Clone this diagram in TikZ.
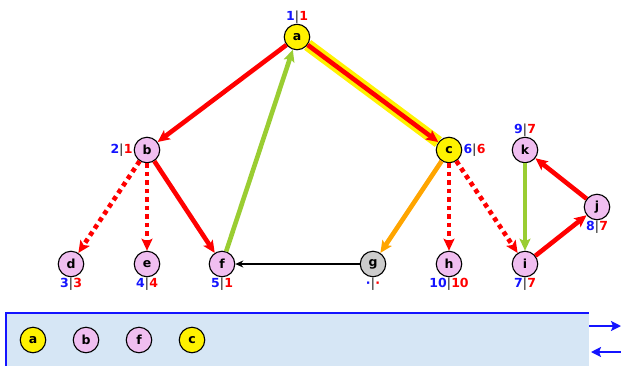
\documentclass[tikz,border=0pt]{standalone}
\usepackage{fontspec}
\setmainfont{DejaVu Sans}
\usetikzlibrary{arrows.meta,positioning}
\definecolor{nodepink}{RGB}{240,190,240}
\definecolor{nodegray}{RGB}{204,204,204}
\definecolor{ygreen}{RGB}{154,205,50}
\definecolor{orng}{RGB}{255,165,0}
\definecolor{boxfill}{RGB}{214,230,245}
\definecolor{lblue}{RGB}{20,20,255}
\definecolor{lred}{RGB}{255,0,0}
\tikzset{
  vx/.style={circle,draw=black,line width=1.1pt,minimum size=25.5pt,inner sep=0pt,font=\fontsize{12.5}{12.5}\selectfont\bfseries},
  pk/.style={vx,fill=nodepink},
  yl/.style={vx,fill=yellow},
  gy/.style={vx,fill=nodegray},
  lbl/.style={font=\fontsize{12.5}{12.5}\selectfont\bfseries,inner sep=1pt},
  tip/.style={-{Stealth[length=12pt,width=11pt,inset=2.5pt]}},
  redE/.style={tip,draw=red,line width=4.6pt},
  redD/.style={redE,dash pattern=on 4.5pt off 4pt},
  grnE/.style={tip,draw=ygreen,line width=4.6pt},
  orgE/.style={tip,draw=orng,line width=4.6pt},
  stk/.style={lblue,line width=2.2pt,-{Stealth[length=10pt,width=10pt,inset=2pt]}},
}
\newcommand{\lab}[2]{\textcolor{lblue}{#1}\textcolor{black!70}{|}\textcolor{lred}{#2}}
\begin{document}
\begin{tikzpicture}[x=1pt,y=-1pt]
\useasboundingbox (0,0) rectangle (621,365);
% box
\fill[boxfill] (6,313) rectangle (589,366);
\draw[lblue,line width=2pt] (6,366) -- (6,313) -- (589,313);
\coordinate (r1a) at (589,326); \coordinate (r1b) at (621,326);
\coordinate (r2a) at (621,352); \coordinate (r2b) at (591,352);
\draw[stk] (r1a) -- (r1b);
\draw[stk] (r2a) -- (r2b);
% nodes
\node[yl] (a) at (297,37) {a};
\node[pk] (b) at (147,150) {b};
\node[yl] (c) at (449,150) {c};
\node[pk] (k) at (525,150) {k};
\node[pk] (j) at (597,207) {j};
\node[pk] (d) at (71,264) {d};
\node[pk] (e) at (147,264) {e};
\node[pk] (f) at (222,264) {f};
\node[gy] (g) at (373,264) {g};
\node[pk] (h) at (449,264) {h};
\node[pk] (i) at (525,264) {i};
% stack
\node[yl] (sa) at (33,340) {a};
\node[pk] (sb) at (86,340) {b};
\node[pk] (sf) at (139,340) {f};
\node[yl] (sc) at (192,340) {c};
% labels
\node[lbl,above=-1pt of a] {\lab{1}{1}};
\node[lbl,left=0pt of b] {\lab{2}{1}};
\node[lbl,right=0pt of c] {\lab{6}{6}};
\node[lbl,above=-1pt of k] {\lab{9}{7}};
\node[lbl,below=-1pt of j] {\lab{8}{7}};
\node[lbl,below=-1pt of d] {\lab{3}{3}};
\node[lbl,below=-1pt of e] {\lab{4}{4}};
\node[lbl,below=-1pt of f] {\lab{5}{1}};
\node[lbl,below=-1pt of g] {\lab{·}{·}};
\node[lbl,below=-1pt of h] {\lab{10}{10}};
\node[lbl,below=-1pt of i] {\lab{7}{7}};
% edges
\draw[yellow,line width=12pt] (a) -- (c);
\draw[redE] (a) -- (b);
\draw[redE] (a) -- (c);
\draw[grnE] (f) -- (a);
\draw[redD] (b) -- (d);
\draw[redD] (b) -- (e);
\draw[redE] (b) -- (f);
\draw[orgE] (c) -- (g);
\draw[redD] (c) -- (h);
\draw[redD] (c) -- (i);
\draw[grnE] (k) -- (i);
\draw[redE] (i) -- (j);
\draw[redE] (j) -- (k);
\draw[black,line width=1.2pt,-{Stealth[length=8pt,width=7pt]}] (g) -- (f);
\end{tikzpicture}
\end{document}
